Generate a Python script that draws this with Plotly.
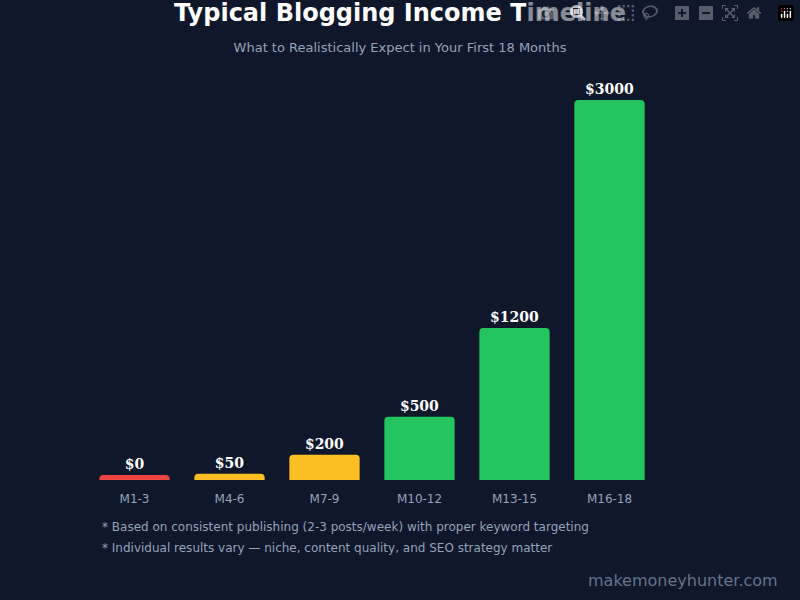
import plotly.graph_objects as go

periods = ["M1-3", "M4-6", "M7-9", "M10-12", "M13-15", "M16-18"]
income = [0, 50, 200, 500, 1200, 3000]
colors = ["#ef4444", "#fbbf24", "#fbbf24", "#22c55e", "#22c55e", "#22c55e"]

# tiny stub so the $0 bar is still visible
shown = [max(v, 40) for v in income]

fig = go.Figure(go.Bar(
    x=periods, y=shown,
    marker=dict(color=colors, cornerradius=4, line=dict(width=0)),
    text=[f"${v}" for v in income], textposition="outside",
    textfont=dict(family="DejaVu Serif", size=14, color="white", weight="bold"),
    cliponaxis=False, hoverinfo="skip",
))

fig.update_layout(
    width=800, height=600,
    paper_bgcolor="#0f172a", plot_bgcolor="#0f172a",
    margin=dict(l=87, r=143, t=85, b=120),
    bargap=0.26, showlegend=False,
    title=dict(
        text="<b>Typical Blogging Income Timeline</b><br><span style='font-size:13px;color:#94a3b8'>What to Realistically Expect in Your First 18 Months</span>",
        x=0.5, xanchor="center", y=0.965, yanchor="top",
        font=dict(family="DejaVu Sans", size=24, color="white"),
    ),
    xaxis=dict(showgrid=False, zeroline=False, showline=False,
               ticks="outside", ticklen=8, tickcolor="#0f172a",
               tickfont=dict(family="DejaVu Sans", size=12, color="#94a3b8")),
    yaxis=dict(visible=False, range=[0, 3118]),
    font=dict(family="DejaVu Sans"),
)

notes = ["* Based on consistent publishing (2-3 posts/week) with proper keyword targeting",
         "* Individual results vary — niche, content quality, and SEO strategy matter"]
for i, n in enumerate(notes):
    fig.add_annotation(text=n, xref="paper", yref="paper", x=(100 - 87) / 570,
                       y=-(527 - 480 + i * 21) / 395, xanchor="left", yanchor="middle",
                       showarrow=False, font=dict(size=12, color="#94a3b8"))
fig.add_annotation(text="makemoneyhunter.com", xref="paper", yref="paper",
                   x=(780 - 87) / 570, y=-(580 - 480) / 395, xanchor="right", yanchor="middle",
                   showarrow=False, font=dict(size=16, color="#64748b"))

fig.write_html("out.html", post_script="document.body.style.margin='0';")
